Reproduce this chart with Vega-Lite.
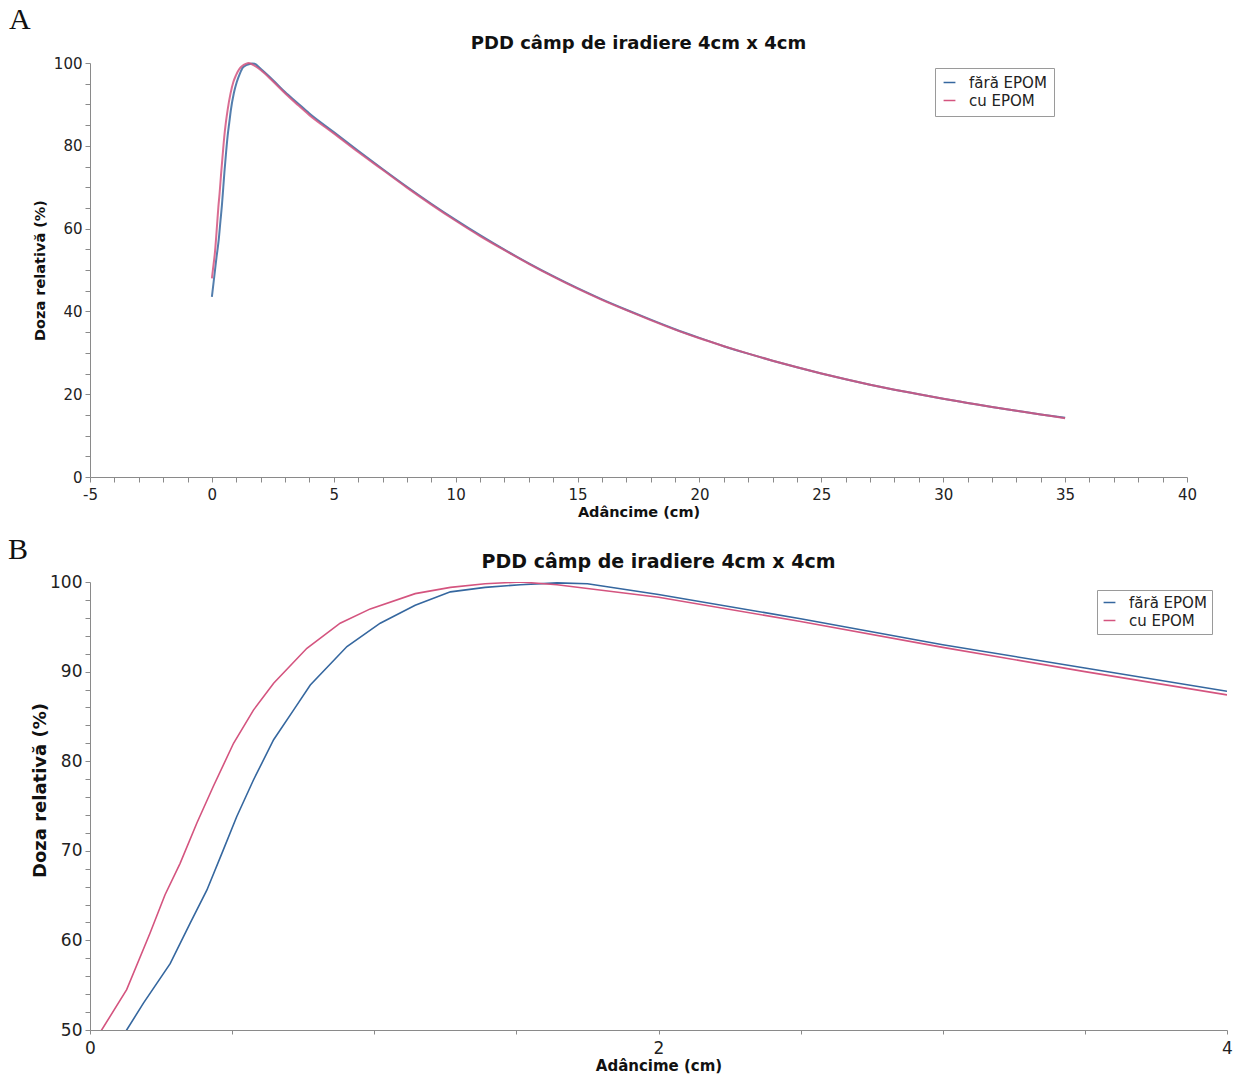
{
  "$schema": "https://vega.github.io/schema/vega-lite/v6.json",
  "background": "white",
  "padding": {"left": 8, "top": 5, "right": 4, "bottom": 2},
  "config": {
    "view": {"stroke": null},
    "font": "DejaVu Sans",
    "axis": {
      "grid": false,
      "domainColor": "#8a8a8a",
      "tickColor": "#8a8a8a",
      "labelColor": "#222222",
      "titleColor": "#111111",
      "titleFontWeight": "bold",
      "labelFont": "DejaVu Sans",
      "titleFont": "DejaVu Sans",
      "labelOverlap": false,
      "labelFlush": false,
      "tickSize": 5
    },
    "legend": {
      "labelFont": "DejaVu Sans",
      "labelColor": "#222222"
    }
  },
  "datasets": {
    "pdd": [
      {"d": 0, "doza": 43.5, "s": "fără EPOM"},
      {"d": 0.129, "doza": 50, "s": "fără EPOM"},
      {"d": 0.188, "doza": 53, "s": "fără EPOM"},
      {"d": 0.282, "doza": 57.4, "s": "fără EPOM"},
      {"d": 0.352, "doza": 61.9, "s": "fără EPOM"},
      {"d": 0.411, "doza": 65.6, "s": "fără EPOM"},
      {"d": 0.469, "doza": 70.1, "s": "fără EPOM"},
      {"d": 0.516, "doza": 73.8, "s": "fără EPOM"},
      {"d": 0.575, "doza": 77.9, "s": "fără EPOM"},
      {"d": 0.646, "doza": 82.4, "s": "fără EPOM"},
      {"d": 0.716, "doza": 85.7, "s": "fără EPOM"},
      {"d": 0.775, "doza": 88.5, "s": "fără EPOM"},
      {"d": 0.904, "doza": 92.8, "s": "fără EPOM"},
      {"d": 1.021, "doza": 95.4, "s": "fără EPOM"},
      {"d": 1.144, "doza": 97.4, "s": "fără EPOM"},
      {"d": 1.268, "doza": 98.9, "s": "fără EPOM"},
      {"d": 1.39, "doza": 99.4, "s": "fără EPOM"},
      {"d": 1.514, "doza": 99.7, "s": "fără EPOM"},
      {"d": 1.643, "doza": 99.9, "s": "fără EPOM"},
      {"d": 1.75, "doza": 99.8, "s": "fără EPOM"},
      {"d": 2.0, "doza": 98.6, "s": "fără EPOM"},
      {"d": 2.5, "doza": 95.9, "s": "fără EPOM"},
      {"d": 3.0, "doza": 93.0, "s": "fără EPOM"},
      {"d": 3.5, "doza": 90.4, "s": "fără EPOM"},
      {"d": 4.0, "doza": 87.8, "s": "fără EPOM"},
      {"d": 5, "doza": 83.3, "s": "fără EPOM"},
      {"d": 6, "doza": 78.8, "s": "fără EPOM"},
      {"d": 7, "doza": 74.4, "s": "fără EPOM"},
      {"d": 8, "doza": 70.1, "s": "fără EPOM"},
      {"d": 9, "doza": 66.0, "s": "fără EPOM"},
      {"d": 10, "doza": 62.1, "s": "fără EPOM"},
      {"d": 11, "doza": 58.4, "s": "fără EPOM"},
      {"d": 12, "doza": 54.9, "s": "fără EPOM"},
      {"d": 13, "doza": 51.6, "s": "fără EPOM"},
      {"d": 14, "doza": 48.5, "s": "fără EPOM"},
      {"d": 15, "doza": 45.6, "s": "fără EPOM"},
      {"d": 16, "doza": 42.9, "s": "fără EPOM"},
      {"d": 17, "doza": 40.4, "s": "fără EPOM"},
      {"d": 18, "doza": 38.0, "s": "fără EPOM"},
      {"d": 19, "doza": 35.7, "s": "fără EPOM"},
      {"d": 20, "doza": 33.6, "s": "fără EPOM"},
      {"d": 21, "doza": 31.6, "s": "fără EPOM"},
      {"d": 22, "doza": 29.8, "s": "fără EPOM"},
      {"d": 23, "doza": 28.1, "s": "fără EPOM"},
      {"d": 24, "doza": 26.5, "s": "fără EPOM"},
      {"d": 25, "doza": 25.0, "s": "fără EPOM"},
      {"d": 26, "doza": 23.6, "s": "fără EPOM"},
      {"d": 27, "doza": 22.3, "s": "fără EPOM"},
      {"d": 28, "doza": 21.1, "s": "fără EPOM"},
      {"d": 29, "doza": 20.0, "s": "fără EPOM"},
      {"d": 30, "doza": 18.9, "s": "fără EPOM"},
      {"d": 31, "doza": 17.9, "s": "fără EPOM"},
      {"d": 32, "doza": 16.9, "s": "fără EPOM"},
      {"d": 33, "doza": 16.0, "s": "fără EPOM"},
      {"d": 34, "doza": 15.1, "s": "fără EPOM"},
      {"d": 35, "doza": 14.3, "s": "fără EPOM"},
      {"d": 0, "doza": 48.0, "s": "cu EPOM"},
      {"d": 0.041, "doza": 50, "s": "cu EPOM"},
      {"d": 0.129, "doza": 54.5, "s": "cu EPOM"},
      {"d": 0.211, "doza": 60.8, "s": "cu EPOM"},
      {"d": 0.264, "doza": 65.1, "s": "cu EPOM"},
      {"d": 0.317, "doza": 68.6, "s": "cu EPOM"},
      {"d": 0.376, "doza": 73.1, "s": "cu EPOM"},
      {"d": 0.434, "doza": 77.2, "s": "cu EPOM"},
      {"d": 0.505, "doza": 82.0, "s": "cu EPOM"},
      {"d": 0.575, "doza": 85.7, "s": "cu EPOM"},
      {"d": 0.646, "doza": 88.7, "s": "cu EPOM"},
      {"d": 0.763, "doza": 92.6, "s": "cu EPOM"},
      {"d": 0.88, "doza": 95.4, "s": "cu EPOM"},
      {"d": 0.986, "doza": 97.0, "s": "cu EPOM"},
      {"d": 1.144, "doza": 98.7, "s": "cu EPOM"},
      {"d": 1.268, "doza": 99.4, "s": "cu EPOM"},
      {"d": 1.39, "doza": 99.8, "s": "cu EPOM"},
      {"d": 1.514, "doza": 100, "s": "cu EPOM"},
      {"d": 1.643, "doza": 99.7, "s": "cu EPOM"},
      {"d": 2.0, "doza": 98.3, "s": "cu EPOM"},
      {"d": 2.5, "doza": 95.6, "s": "cu EPOM"},
      {"d": 3.0, "doza": 92.7, "s": "cu EPOM"},
      {"d": 3.5, "doza": 90.0, "s": "cu EPOM"},
      {"d": 4.0, "doza": 87.4, "s": "cu EPOM"},
      {"d": 5, "doza": 83.0, "s": "cu EPOM"},
      {"d": 6, "doza": 78.5, "s": "cu EPOM"},
      {"d": 7, "doza": 74.2, "s": "cu EPOM"},
      {"d": 8, "doza": 69.9, "s": "cu EPOM"},
      {"d": 9, "doza": 65.8, "s": "cu EPOM"},
      {"d": 10, "doza": 61.9, "s": "cu EPOM"},
      {"d": 11, "doza": 58.2, "s": "cu EPOM"},
      {"d": 12, "doza": 54.8, "s": "cu EPOM"},
      {"d": 13, "doza": 51.5, "s": "cu EPOM"},
      {"d": 14, "doza": 48.4, "s": "cu EPOM"},
      {"d": 15, "doza": 45.5, "s": "cu EPOM"},
      {"d": 16, "doza": 42.8, "s": "cu EPOM"},
      {"d": 17, "doza": 40.3, "s": "cu EPOM"},
      {"d": 18, "doza": 37.9, "s": "cu EPOM"},
      {"d": 19, "doza": 35.6, "s": "cu EPOM"},
      {"d": 20, "doza": 33.5, "s": "cu EPOM"},
      {"d": 21, "doza": 31.6, "s": "cu EPOM"},
      {"d": 22, "doza": 29.8, "s": "cu EPOM"},
      {"d": 23, "doza": 28.1, "s": "cu EPOM"},
      {"d": 24, "doza": 26.5, "s": "cu EPOM"},
      {"d": 25, "doza": 25.0, "s": "cu EPOM"},
      {"d": 26, "doza": 23.6, "s": "cu EPOM"},
      {"d": 27, "doza": 22.3, "s": "cu EPOM"},
      {"d": 28, "doza": 21.1, "s": "cu EPOM"},
      {"d": 29, "doza": 20.0, "s": "cu EPOM"},
      {"d": 30, "doza": 18.9, "s": "cu EPOM"},
      {"d": 31, "doza": 17.9, "s": "cu EPOM"},
      {"d": 32, "doza": 16.9, "s": "cu EPOM"},
      {"d": 33, "doza": 16.0, "s": "cu EPOM"},
      {"d": 34, "doza": 15.1, "s": "cu EPOM"},
      {"d": 35, "doza": 14.2, "s": "cu EPOM"}
    ]
  },
  "spacing": 16,
  "resolve": {"scale": {"color": "independent"}, "legend": {"color": "independent"}},
  "vconcat": [
    {
      "title": {"text": "A", "anchor": "start", "font": "Liberation Serif", "fontSize": 30, "fontWeight": "normal", "color": "#111111", "dx": -23, "offset": 0},
      "vconcat": [
        {
          "width": 1097,
          "height": 414,
          "title": {"text": "PDD câmp de iradiere 4cm x 4cm", "font": "DejaVu Sans", "fontSize": 18, "fontWeight": "bold", "color": "#111111", "offset": 3},
          "data": {"name": "pdd"},
          "mark": {"type": "line", "strokeWidth": 2, "interpolate": "monotone", "strokeOpacity": 0.85},
          "encoding": {
            "x": {
              "field": "d", "type": "quantitative",
              "scale": {"domain": [-5, 40], "nice": false, "zero": false},
              "axis": {
                "title": "Adâncime (cm)", "titleFontSize": 14.5, "titlePadding": 3, "labelFontSize": 15, "labelPadding": 5,
                "values": [-5,-4,-3,-2,-1,0,1,2,3,4,5,6,7,8,9,10,11,12,13,14,15,16,17,18,19,20,21,22,23,24,25,26,27,28,29,30,31,32,33,34,35,36,37,38,39,40],
                "labelExpr": "datum.value % 5 === 0 ? '' + datum.value : ''"
              }
            },
            "y": {
              "field": "doza", "type": "quantitative",
              "scale": {"domain": [0, 100], "nice": false},
              "axis": {
                "title": "Doza relativă (%)", "titleFontSize": 14.5, "titlePadding": 3, "labelFontSize": 15, "labelPadding": 3,
                "minExtent": 40, "maxExtent": 40,
                "values": [0,5,10,15,20,25,30,35,40,45,50,55,60,65,70,75,80,85,90,95,100],
                "labelExpr": "datum.value % 20 === 0 ? '' + datum.value : ''"
              }
            },
            "color": {
              "field": "s", "type": "nominal",
              "scale": {"domain": ["fără EPOM", "cu EPOM"], "range": ["#35679f", "#d4547f"]},
              "legend": {
                "title": null, "orient": "none", "legendX": 845, "legendY": 5,
                "symbolType": "stroke", "symbolSize": 140, "symbolStrokeWidth": 1.5,
                "labelFontSize": 15, "strokeColor": "#9a9a9a", "fillColor": "white",
                "padding": 7, "rowPadding": 2, "labelOffset": 12, "offset": 0
              }
            }
          }
        }
      ]
    },
    {
      "title": {"text": "B", "anchor": "start", "font": "Liberation Serif", "fontSize": 30, "fontWeight": "normal", "color": "#111111", "dx": -23, "offset": -12},
      "vconcat": [
        {
          "width": 1137,
          "height": 448,
          "title": {"text": "PDD câmp de iradiere 4cm x 4cm", "font": "DejaVu Sans", "fontSize": 19, "fontWeight": "bold", "color": "#111111", "offset": 1},
          "data": {"name": "pdd"},
          "transform": [{"filter": "datum.d <= 4.01"}],
          "mark": {"type": "line", "strokeWidth": 1.6, "clip": true},
          "encoding": {
            "x": {
              "field": "d", "type": "quantitative",
              "scale": {"domain": [0, 4], "nice": false, "zero": false},
              "axis": {
                "title": "Adâncime (cm)", "titleFontSize": 15, "titlePadding": 2, "labelFontSize": 17, "labelPadding": 6, "tickSize": 4,
                "values": [0, 0.5, 1, 1.5, 2, 2.5, 3, 3.5, 4],
                "labelExpr": "datum.value % 2 === 0 ? '' + datum.value : ''"
              }
            },
            "y": {
              "field": "doza", "type": "quantitative",
              "scale": {"domain": [50, 100], "nice": false, "zero": false},
              "axis": {
                "title": "Doza relativă (%)", "titleFontSize": 18, "titlePadding": 1, "titleY": 208, "labelFontSize": 17, "labelPadding": 3,
                "minExtent": 40, "maxExtent": 40,
                "values": [50,52,54,56,58,60,62,64,66,68,70,72,74,76,78,80,82,84,86,88,90,92,94,96,98,100],
                "labelExpr": "datum.value % 10 === 0 ? '' + datum.value : ''"
              }
            },
            "color": {
              "field": "s", "type": "nominal",
              "scale": {"domain": ["fără EPOM", "cu EPOM"], "range": ["#35679f", "#d4547f"]},
              "legend": {
                "title": null, "orient": "none", "legendX": 1007, "legendY": 8,
                "symbolType": "stroke", "symbolSize": 140, "symbolStrokeWidth": 1.5,
                "labelFontSize": 15, "strokeColor": "#9a9a9a", "fillColor": "white",
                "padding": 5, "rowPadding": 2, "labelOffset": 12, "offset": 0
              }
            }
          }
        }
      ]
    }
  ]
}
